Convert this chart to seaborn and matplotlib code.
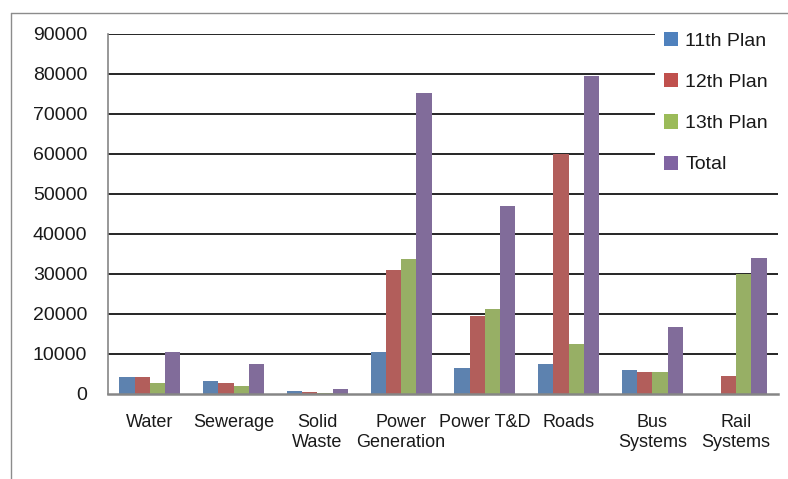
import matplotlib
matplotlib.use("Agg")
import matplotlib.pyplot as plt
from matplotlib.patches import Patch, Rectangle
from matplotlib.lines import Line2D
import pandas as pd
import seaborn as sns

categories = ["Water", "Sewerage", "Solid\nWaste", "Power\nGeneration",
              "Power T&D", "Roads", "Bus\nSystems", "Rail\nSystems"]
series_names = ["11th Plan", "12th Plan", "13th Plan", "Total"]
plan_11 = [4200, 3150, 600, 10500, 6300, 7300, 6000, 0]
plan_12 = [4200, 2700, 500, 31000, 19500, 60000, 5400, 4300]
plan_13 = [2700, 1900, 250, 33600, 21100, 12500, 5400, 30000]
total = [10500, 7450, 1050, 75200, 46900, 79400, 16700, 34000]
y_ticks = [0, 10000, 20000, 30000, 40000, 50000, 60000, 70000, 80000, 90000]
colors = ["#4F81BD", "#C0504D", "#9BBB59", "#8064A2"]

rows = []
for name, vals in zip(series_names, [plan_11, plan_12, plan_13, total]):
    for cat, v in zip(categories, vals):
        rows.append({"category": cat, "series": name, "value": v})
df = pd.DataFrame(rows)

sns.set_style("white")
plt.rcParams["font.family"] = ["Liberation Sans", "DejaVu Sans"]

W, H = 788, 479
fig = plt.figure(figsize=(W / 100, H / 100), dpi=100)
ax = fig.add_axes([108 / W, (H - 393.5) / H, (778 - 108) / W, (393.5 - 34) / H])

sns.barplot(data=df, x="category", y="value", hue="series", order=categories,
            hue_order=series_names, palette=colors, width=0.727, gap=0,
            linewidth=0, legend=False, ax=ax, zorder=3)

ax.set_ylim(0, 90000)
ax.set_xlim(-0.5, len(categories) - 0.5)
ax.set_yticks(y_ticks)
ax.set_yticklabels([str(t) for t in y_ticks])
ax.set_xlabel("")
ax.set_ylabel("")

# horizontal gridlines
for t in y_ticks[1:]:
    ax.axhline(t, color="black", lw=1.2, zorder=1)

for s in ["top", "right"]:
    ax.spines[s].set_visible(False)
ax.spines["left"].set_color("#868686")
ax.spines["left"].set_linewidth(1.2)
ax.spines["bottom"].set_color("#868686")
ax.spines["bottom"].set_linewidth(1.8)
ax.spines["bottom"].set_zorder(4)

ax.tick_params(axis="y", length=4, width=1, color="#868686", pad=11,
               labelsize=14, labelcolor="#1a1a1a")
ax.tick_params(axis="x", which="major", length=0, pad=15,
               labelsize=13, labelcolor="#1a1a1a")
ax.set_xticks([i - 0.5 for i in range(len(categories) + 1)], minor=True)
ax.tick_params(axis="x", which="minor", length=3, width=1, color="#868686")

# white panel behind the legend, covering the gridlines on the right
fig.add_artist(Rectangle((655 / W, 1 - 182 / H), (W - 655) / W, 160 / H,
                         transform=fig.transFigure, facecolor="white",
                         edgecolor="none", zorder=2))

handles = [Patch(facecolor=c, edgecolor="none", label=n)
           for c, n in zip(colors, series_names)]
leg = fig.legend(handles=handles, loc="upper left",
                 bbox_to_anchor=(658 / W, 1 - 26 / H), frameon=False,
                 fontsize=14, handlelength=0.75, handleheight=0.75,
                 handletextpad=0.35, labelspacing=1.2, borderpad=0.3,
                 borderaxespad=0)
leg.set_zorder(3)
for txt in leg.get_texts():
    txt.set_color("#1a1a1a")

# outer chart border
fig.add_artist(Line2D([10.5 / W, 10.5 / W], [0, 1 - 12.5 / H],
                      transform=fig.transFigure, color="#8c8c8c", lw=1))
fig.add_artist(Line2D([10.5 / W, 1], [1 - 12.5 / H, 1 - 12.5 / H],
                      transform=fig.transFigure, color="#8c8c8c", lw=1))

fig.savefig("out.png", dpi=100)
